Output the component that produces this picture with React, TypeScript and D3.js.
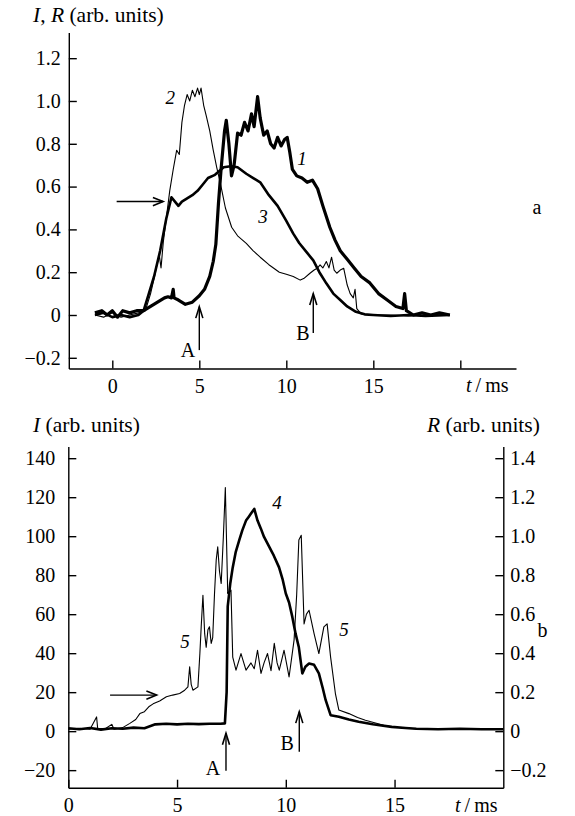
import React, { useEffect, useRef } from 'react';
import * as d3 from 'd3';

type Pt = [number, number];

// panel a: t (ms) vs I, R (arb. units)
const curve1: Pt[] = [
  [-1.0, 0.01], [-0.6, 0.02], [-0.3, 0.0], [0, 0.02], [0.3, -0.01], [0.6, 0.02], [1.0, 0.01], [1.4, 0.02],
  [1.8, 0.02], [2.2, 0.04], [2.6, 0.06], [3.0, 0.08], [3.2, 0.085], [3.4, 0.08], [3.5, 0.12], [3.55, 0.08],
  [3.8, 0.07], [4.2, 0.05], [4.6, 0.06], [5.0, 0.09], [5.3, 0.12], [5.6, 0.18], [5.8, 0.25], [5.95, 0.33],
  [6.1, 0.52], [6.25, 0.68], [6.45, 0.86], [6.55, 0.91], [6.7, 0.8], [6.85, 0.65], [7.0, 0.7], [7.2, 0.85],
  [7.4, 0.84], [7.6, 0.9], [7.8, 0.86], [8.0, 0.94], [8.15, 0.88], [8.35, 1.02], [8.5, 0.92], [8.7, 0.84],
  [8.9, 0.86], [9.1, 0.8], [9.3, 0.78], [9.5, 0.83], [9.7, 0.79], [9.9, 0.82], [10.05, 0.83], [10.2, 0.76],
  [10.35, 0.68], [10.6, 0.65], [10.9, 0.64], [11.2, 0.62], [11.5, 0.63], [11.8, 0.59], [12.1, 0.51],
  [12.5, 0.41], [12.8, 0.35], [13.1, 0.3], [13.5, 0.26], [13.9, 0.22], [14.3, 0.18], [14.8, 0.15],
  [15.3, 0.1], [15.8, 0.07], [16.3, 0.04], [16.7, 0.03], [16.8, 0.1], [16.9, 0.02], [17.3, 0.0],
  [17.8, 0.01], [18.3, 0.0], [18.8, 0.01], [19.4, 0.0],
];
const curve2: Pt[] = [
  [-1.0, 0.0], [-0.5, -0.01], [0, 0.01], [0.5, -0.01], [1.0, 0.0], [1.5, 0.01], [1.9, 0.02], [2.2, 0.1],
  [2.4, 0.17], [2.55, 0.23], [2.7, 0.28], [2.8, 0.22], [2.93, 0.34], [3.1, 0.45], [3.3, 0.58], [3.5, 0.68],
  [3.7, 0.77], [3.85, 0.75], [4.0, 0.9], [4.15, 0.98], [4.3, 1.03], [4.45, 1.0], [4.6, 1.05], [4.75, 1.02],
  [4.9, 1.06], [5.0, 1.03], [5.1, 1.06], [5.25, 0.98], [5.4, 0.93], [5.6, 0.86], [5.8, 0.77], [6.0, 0.69],
  [6.2, 0.62], [6.5, 0.5], [6.86, 0.41], [7.2, 0.37], [7.7, 0.335], [8.1, 0.3], [8.5, 0.27], [9.0, 0.235],
  [9.6, 0.2], [10.0, 0.19], [10.4, 0.18], [10.8, 0.163], [11.0, 0.17], [11.36, 0.195], [11.6, 0.21],
  [11.8, 0.22], [11.94, 0.234], [12.1, 0.22], [12.3, 0.25], [12.45, 0.22], [12.6, 0.27], [12.75, 0.21],
  [12.9, 0.195], [13.1, 0.21], [13.3, 0.218], [13.5, 0.14], [13.67, 0.1], [13.85, 0.08], [13.95, 0.12],
  [14.05, 0.03], [14.3, 0.005], [15, 0.0], [16, 0.0], [17, -0.005], [18, 0.0], [19.4, 0.0],
];
const curve3: Pt[] = [
  [-1.0, 0.0], [-0.5, 0.01], [0, -0.01], [0.5, 0.0], [1.0, -0.01], [1.5, 0.0], [1.8, 0.02], [2.1, 0.1],
  [2.4, 0.18], [2.75, 0.3], [3.1, 0.45], [3.4, 0.55], [3.6, 0.53], [3.8, 0.51], [4.0, 0.53], [4.3, 0.545],
  [4.6, 0.56], [4.9, 0.58], [5.2, 0.61], [5.5, 0.64], [5.9, 0.655], [6.4, 0.69], [6.8, 0.695], [7.2, 0.69],
  [7.7, 0.66], [8.1, 0.64], [8.5, 0.62], [9.0, 0.56], [9.5, 0.51], [10.0, 0.44], [10.4, 0.38],
  [10.75, 0.335], [11.2, 0.29], [11.55, 0.255], [11.9, 0.2], [12.3, 0.148], [12.7, 0.1], [13.1, 0.07],
  [13.5, 0.04], [14.0, 0.015], [14.5, 0.003], [15.0, 0.0], [16, -0.005], [17, 0.0], [18, -0.005], [19.4, 0.0],
];

// panel b: t (ms) vs I; curve 5 is R scaled by 100
const curve4: Pt[] = [
  [0, 1.5], [0.5, 1.0], [1.0, 1.6], [1.5, 0.8], [2.0, 1.5], [2.5, 1.2], [3.0, 1.8], [3.5, 1.5], [4.0, 3.5],
  [4.5, 3.8], [5.0, 3.5], [5.5, 3.8], [6.0, 3.6], [6.5, 3.8], [7.0, 3.8], [7.2, 4.0], [7.28, 20], [7.33, 64],
  [7.45, 76], [7.56, 84], [7.7, 92], [7.86, 98], [8.0, 103], [8.17, 108], [8.3, 110], [8.4, 111.6],
  [8.55, 114], [8.7, 108], [8.85, 104], [9.0, 99.6], [9.24, 94.5], [9.45, 90], [9.69, 84], [9.85, 78],
  [10.0, 70.6], [10.15, 66], [10.3, 58.6], [10.45, 50], [10.6, 43], [10.76, 29.6], [10.9, 33], [11.07, 34.7],
  [11.3, 34], [11.52, 29.6], [11.7, 22], [11.83, 16], [12.06, 8.2], [12.44, 7.4], [12.9, 6], [13.35, 4.8],
  [14.0, 3.5], [14.87, 2.2], [15.5, 1.6], [16, 1.2], [17, 1.0], [18, 1.2], [19, 1.0], [20, 1.0],
];
const curve5: Pt[] = [
  [0, 1.0], [0.5, 1.5], [1.0, 1.0], [1.3, 7.3], [1.35, 1.5], [1.7, 1.2], [2.0, 3.5], [2.1, 1.0], [2.5, 1.8],
  [2.83, 4], [3.1, 6], [3.29, 9], [3.5, 10], [3.7, 12.5], [3.9, 14], [4.2, 15.5], [4.51, 17.6], [4.8, 18.5],
  [5.12, 19.3], [5.35, 21], [5.5, 22.7], [5.58, 33], [5.65, 24], [5.73, 21], [5.96, 22.7], [6.05, 40],
  [6.11, 53.5], [6.19, 69.7], [6.27, 50], [6.34, 43], [6.42, 52], [6.49, 53.5], [6.57, 45], [6.64, 48],
  [6.72, 70], [6.8, 87.7], [6.87, 94.5], [6.95, 82], [7.03, 75.7], [7.13, 100], [7.22, 125], [7.33, 70.6],
  [7.48, 72.3], [7.56, 38], [7.71, 31.3], [7.94, 39.8], [8.17, 31.3], [8.4, 35], [8.55, 32], [8.7, 41.5],
  [8.86, 29.6], [9.0, 35], [9.16, 39.8], [9.32, 31], [9.47, 45], [9.6, 35], [9.7, 31.3], [9.92, 41.5],
  [10.15, 27.8], [10.38, 46.7], [10.5, 70], [10.6, 98], [10.71, 100.5], [10.84, 55], [10.95, 60],
  [11.07, 62], [11.3, 50], [11.52, 39.8], [11.75, 53.5], [11.9, 55], [12.06, 38], [12.28, 19.3],
  [12.44, 10.8], [12.9, 9], [13.3, 7], [13.66, 5.6], [14.5, 3], [15, 2], [16, 1.2], [17, 1.0], [18, 1.4],
  [19, 1.0], [20, 1.2],
];

const topXTicks = [0, 5, 10, 15, 20];
const topYTicks = [-0.2, 0, 0.2, 0.4, 0.6, 0.8, 1.0, 1.2];
const botXTicks = [0, 5, 10, 15];
const botYTicks = [-20, 0, 20, 40, 60, 80, 100, 120, 140];

// curve labels and annotation positions in data units
const topLabels = [
  { text: '2', t: 3.33, v: 0.985, italic: true },
  { text: '1', t: 10.9, v: 0.7, italic: true },
  { text: '3', t: 8.66, v: 0.43, italic: true },
  { text: 'A', t: 4.35, v: -0.196, italic: false },
  { text: 'B', t: 10.96, v: -0.117, italic: false },
  { text: 'a', t: 24.4, v: 0.47, italic: false },
];
const topArrows = [
  { t1: 0.25, v1: 0.53, t2: 2.92, v2: 0.53 },
  { t1: 5.0, v1: -0.164, t2: 5.0, v2: 0.039 },
  { t1: 11.55, v1: -0.084, t2: 11.55, v2: 0.1 },
];
const botLabels = [
  { text: '4', t: 9.6, v: 113.9, italic: true },
  { text: '5', t: 5.37, v: 42.6, italic: true },
  { text: '5', t: 12.68, v: 48.8, italic: true },
  { text: 'A', t: 6.65, v: -22.6, italic: false },
  { text: 'B', t: 10.06, v: -9.8, italic: false },
  { text: 'b', t: 21.8, v: 48.3, italic: false },
];
const botArrows = [
  { t1: 1.92, v1: 18.5, t2: 4.06, v2: 18.5 },
  { t1: 7.25, v1: -20.3, t2: 7.25, v2: -1.1 },
  { t1: 10.62, v1: -10.5, t2: 10.62, v2: 10 },
];

const FONT = 'Liberation Serif, Times New Roman, serif';

const App = () => {
  const svgRef = useRef<SVGSVGElement>(null);

  useEffect(() => {
    const svg = d3.select(svgRef.current);
    svg.selectAll('*').remove();

    const fmt1 = (d: number) => (d === 0 ? '0' : d3.format('.1f')(d));

    const styleAxis = (g: any) => {
      g.attr('font-family', null).attr('font-size', null);
      g.select('.domain').attr('stroke', '#000').attr('stroke-width', 1.4);
      g.selectAll('.tick line').attr('stroke', '#000').attr('stroke-width', 1.4);
      g.selectAll('.tick text').style('font-family', FONT).style('font-size', '20px').attr('fill', '#000');
    };

    const drawArrow = (g: any, x1: number, y1: number, x2: number, y2: number, open: boolean) => {
      g.append('line').attr('x1', x1).attr('y1', y1).attr('x2', x2).attr('y2', y2)
        .attr('stroke', '#000').attr('stroke-width', 1.4);
      const ang = Math.atan2(y2 - y1, x2 - x1);
      const len = open ? 11 : 12;
      const spread = open ? 0.38 : 0.3;
      const p1 = [x2 - len * Math.cos(ang - spread), y2 - len * Math.sin(ang - spread)];
      const p2 = [x2 - len * Math.cos(ang + spread), y2 - len * Math.sin(ang + spread)];
      g.append('path')
        .attr('d', `M${p1[0]},${p1[1]}L${x2},${y2}L${p2[0]},${p2[1]}`)
        .attr('fill', 'none').attr('stroke', '#000').attr('stroke-width', 1.6)
        .attr('stroke-linejoin', 'miter');
    };

    const addLabels = (g: any, labels: any[], x: any, y: any) => {
      labels.forEach((l) => {
        g.append('text')
          .attr('x', x(l.t)).attr('y', y(l.v))
          .attr('text-anchor', 'middle')
          .style('font-family', FONT)
          .style('font-size', l.italic ? '19px' : '20px')
          .style('font-style', l.italic ? 'italic' : 'normal')
          .text(l.text);
      });
    };

    const addTimeLabel = (g: any, px: number, py: number) => {
      const t = g.append('text').attr('x', px).attr('y', py)
        .style('font-family', FONT).style('font-size', '20px');
      t.append('tspan').style('font-style', 'italic').text('t');
      t.append('tspan').text('\u2009/\u2009ms');
    };

    const addTitle = (g: any, px: number, py: number, parts: [string, boolean][]) => {
      const t = g.append('text').attr('x', px).attr('y', py)
        .style('font-family', FONT).style('font-size', '21.5px');
      parts.forEach(([s, it]) => t.append('tspan').style('font-style', it ? 'italic' : 'normal').text(s));
    };

    // ---------- panel a ----------
    const xa = d3.scaleLinear().domain([-2.5, 23.2]).range([68.8, 516]);
    const ya = d3.scaleLinear().domain([-0.25, 1.32]).range([368.5, 32.5]);
    const ga = svg.append('g');

    ga.append('g')
      .attr('transform', `translate(0,${ya(-0.25)})`)
      .call(d3.axisBottom(xa).tickValues(topXTicks).tickSizeInner(-8).tickSizeOuter(0).tickPadding(10)
        .tickFormat((d: any) => (d === 20 ? '' : String(d))))
      .call(styleAxis);

    ga.append('g')
      .attr('transform', `translate(${xa(-2.5)},0)`)
      .call(d3.axisLeft(ya).tickValues(topYTicks).tickSizeInner(-8).tickSizeOuter(0).tickPadding(8)
        .tickFormat((d: any) => fmt1(d)))
      .call(styleAxis);

    const lineA = d3.line<Pt>().x((d) => xa(d[0])).y((d) => ya(d[1]));
    [
      { data: curve3, w: 2.6 },
      { data: curve2, w: 1.1 },
      { data: curve1, w: 3.2 },
    ].forEach((c) => {
      ga.append('path').datum(c.data)
        .attr('fill', 'none').attr('stroke', '#000').attr('stroke-width', c.w)
        .attr('stroke-linejoin', 'round').attr('d', lineA);
    });

    topArrows.forEach((a, i) => drawArrow(ga, xa(a.t1), ya(a.v1), xa(a.t2), ya(a.v2), i === 0));
    addLabels(ga, topLabels, xa, ya);
    addTimeLabel(ga, 466, 392);
    addTitle(ga, 33, 22, [['I', true], [', ', false], ['R', true], [' (arb. units)', false]]);

    // ---------- panel b ----------
    const xb = d3.scaleLinear().domain([0, 20]).range([68.3, 503.3]);
    const yb = d3.scaleLinear().domain([-29, 146]).range([787.7, 446.5]);
    const gb = svg.append('g');

    gb.append('g')
      .attr('transform', `translate(0,${yb(-29)})`)
      .call(d3.axisBottom(xb).tickValues(botXTicks).tickSizeInner(-8).tickSizeOuter(0).tickPadding(10)
        .tickFormat((d: any) => String(d)))
      .call(styleAxis);

    gb.append('g')
      .attr('transform', `translate(${xb(0)},0)`)
      .call(d3.axisLeft(yb).tickValues(botYTicks).tickSizeInner(-8).tickSizeOuter(0).tickPadding(13)
        .tickFormat((d: any) => (d < 0 ? '\u2212' + Math.abs(d) : String(d))))
      .call(styleAxis);

    gb.append('g')
      .attr('transform', `translate(${xb(20)},0)`)
      .call(d3.axisRight(yb).tickValues(botYTicks).tickSizeInner(-8).tickSizeOuter(0).tickPadding(7)
        .tickFormat((d: any) => fmt1(d / 100)))
      .call(styleAxis);

    const lineB = d3.line<Pt>().x((d) => xb(d[0])).y((d) => yb(d[1]));
    [
      { data: curve5, w: 1.1 },
      { data: curve4, w: 2.6 },
    ].forEach((c) => {
      gb.append('path').datum(c.data)
        .attr('fill', 'none').attr('stroke', '#000').attr('stroke-width', c.w)
        .attr('stroke-linejoin', 'round').attr('d', lineB);
    });

    botArrows.forEach((a, i) => drawArrow(gb, xb(a.t1), yb(a.v1), xb(a.t2), yb(a.v2), i === 0));
    addLabels(gb, botLabels, xb, yb);
    addTimeLabel(gb, 455, 812);
    addTitle(gb, 33, 432, [['I', true], [' (arb. units)', false]]);
    addTitle(gb, 427, 432, [['R', true], [' (arb. units)', false]]);
  }, []);

  return (
    <svg
      ref={svgRef}
      width={575}
      height={816}
      style={{ position: 'absolute', left: 0, top: 0, background: '#fff', fontFamily: FONT }}
    />
  );
};

export default App;
